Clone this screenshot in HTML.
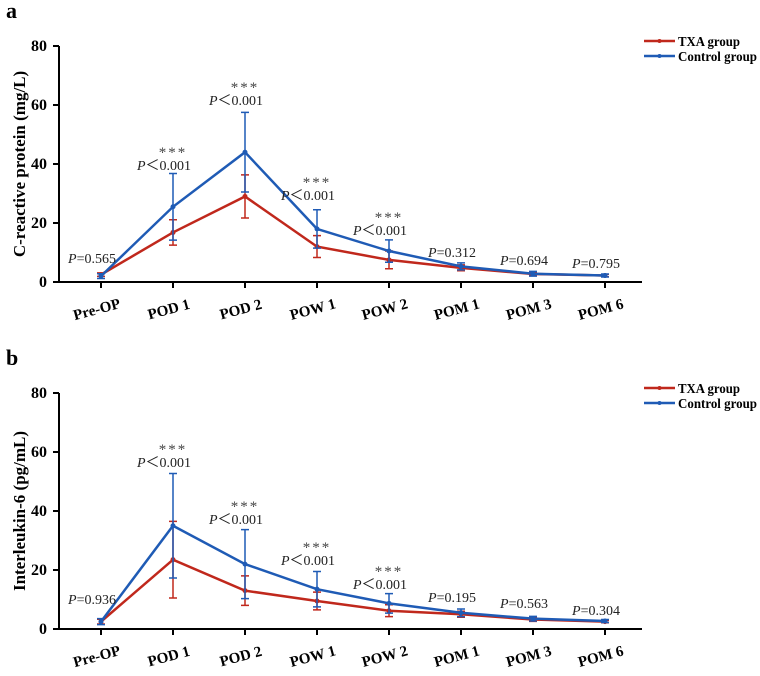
<!DOCTYPE html>
<html><head><meta charset="utf-8"><style>
body{margin:0;background:#fff;}
svg text{font-family:"Liberation Serif",serif;}
</style></head><body>
<svg id="chart" width="760" height="671" viewBox="0 0 760 671" xmlns="http://www.w3.org/2000/svg"></svg>
<script>
const categories = ["Pre-OP","POD 1","POD 2","POW 1","POW 2","POM 1","POM 3","POM 6"];
const yTicks = [0,20,40,60,80];
const crpTxa = [2.5,16.8,29,12,7.5,4.8,2.7,2.2];
const crpTxaErr = [0.6,4.3,7.3,3.7,3,1,0.5,0.4];
const crpCtrl = [2,25.5,44,18,10.5,5.3,2.8,2.2];
const crpCtrlErr = [0.8,11.3,13.5,6.5,3.8,1.2,0.8,0.5];
const crpSig = ["","***","***","***","***","","",""];
const crpP = ["P=0.565","P<0.001","P<0.001","P<0.001","P<0.001","P=0.312","P=0.694","P=0.795"];
const crpPY = [8.1,39.7,61.7,29.5,17.6,10.2,7.5,6.4];
const il6Txa = [2.5,23.5,13,9.5,6.2,5,3.2,2.5];
const il6TxaErr = [0.8,13,5,3,2,1,0.6,0.4];
const il6Ctrl = [2.5,35,22,13.5,8.7,5.5,3.5,2.7];
const il6CtrlErr = [1,17.7,11.7,6,3.3,1.3,0.8,0.5];
const il6Sig = ["","***","***","***","***","","",""];
const il6P = ["P=0.936","P<0.001","P<0.001","P<0.001","P<0.001","P=0.195","P=0.563","P=0.304"];
const il6PY = [10.2,56.6,37.3,23.4,15.3,10.8,8.8,6.4];

const svg=document.getElementById('chart');
const NS='http://www.w3.org/2000/svg';
function mk(tag,attrs,parent){const e=document.createElementNS(NS,tag);for(const k in attrs)e.setAttribute(k,attrs[k]);(parent||svg).appendChild(e);return e;}
const RED='#c0281c',BLUE='#1f5bb5';

function panel(id,letter,y0,y80,title,txa,txaE,ctrl,ctrlE,sig,pl,py){
  const g=mk('g',{});
  
  
  const xS=i=>101+i*72;
  const yS=v=>y0+(y80-y0)*v/80;
  const lt=mk('text',{x:6,y:y80-28,'font-size':22,'font-weight':'bold'},g);lt.textContent=letter;
  
  
  const ax=mk('path',{d:`M59 ${y80} V${y0} H642`,stroke:'#000','stroke-width':2,fill:'none'},g);
  
  
  yTicks.forEach(t=>{
    mk('line',{x1:53,x2:59,y1:yS(t),y2:yS(t),stroke:'#000','stroke-width':2},g);
    const tx=mk('text',{x:47,y:yS(t)+5,'font-size':16,'font-weight':'bold','text-anchor':'end'},g);tx.textContent=t;
    
    
  });
  categories.forEach((c,i)=>{
    mk('line',{x1:xS(i),x2:xS(i),y1:y0,y2:y0+6,stroke:'#000','stroke-width':2},g);
    const tx=mk('text',{x:0,y:0,'font-size':15,'font-weight':'bold','text-anchor':'middle',transform:`translate(${xS(i)-3},${y0+32}) rotate(-15)`},g);tx.textContent=c;
    
    
  });
  const yt=mk('text',{x:0,y:0,'font-size':17,'font-weight':'bold','text-anchor':'middle',transform:`translate(25,${(y0+y80)/2}) rotate(-90)`},g);yt.textContent=title;
  
  
  [[txa,txaE,RED,'txa'],[ctrl,ctrlE,BLUE,'control']].forEach(([vals,errs,col,nm])=>{
    vals.forEach((v,i)=>{
      const x=xS(i),a=yS(v+errs[i]),b=yS(v-errs[i]);
      const eb=mk('path',{d:`M${x} ${a}V${b}M${x-4} ${a}H${x+4}M${x-4} ${b}H${x+4}`,stroke:col,'stroke-width':1.5,fill:'none'},g);
      
      
    });
    const ln=mk('polyline',{points:vals.map((v,i)=>xS(i)+','+yS(v)).join(' '),stroke:col,'stroke-width':2.5,fill:'none'},g);
    
    
    vals.forEach((v,i)=>{
      const c=mk('circle',{cx:xS(i),cy:yS(v),r:2.5,fill:col},g);
      
      
    });
  });
  categories.forEach((c,i)=>{
    const yy=yS(py[i]);
    if(sig[i]){
      const s=mk('text',{x:xS(i),y:yy-8,'font-size':15,'text-anchor':'middle',fill:'#444','letter-spacing':'2'},g);s.textContent=sig[i];
      
      
    }
    const p=mk('text',{x:xS(i)-9,y:yy+5,'font-size':14,'text-anchor':'middle',fill:'#222'},g);
    
    
    const it=mk('tspan',{'font-style':'italic'},p);it.textContent='P';
    const rest=mk('tspan',{},p);rest.textContent=pl[i].slice(1).replace('<','\uFF1C');
  });
  [[RED,'TXA group',62],[BLUE,'Control group',79]].forEach(([col,lab,w],k)=>{
    const ly=y80-5+k*15;
    const lg=mk('g',{},g);
    
    
    mk('line',{x1:644,x2:675,y1:ly,y2:ly,stroke:col,'stroke-width':2.5},lg);
    mk('circle',{cx:659.5,cy:ly,r:2,fill:col},lg);
    const t=mk('text',{x:678,y:ly+5,'font-size':14,'font-weight':'bold',textLength:w,lengthAdjust:'spacingAndGlyphs'},lg);t.textContent=lab;
  });
}
panel('crp','a',282,46,'C-reactive protein (mg/L)',crpTxa,crpTxaErr,crpCtrl,crpCtrlErr,crpSig,crpP,crpPY);
panel('il6','b',629,393,'Interleukin-6 (pg/mL)',il6Txa,il6TxaErr,il6Ctrl,il6CtrlErr,il6Sig,il6P,il6PY);
</script>
</body></html>
